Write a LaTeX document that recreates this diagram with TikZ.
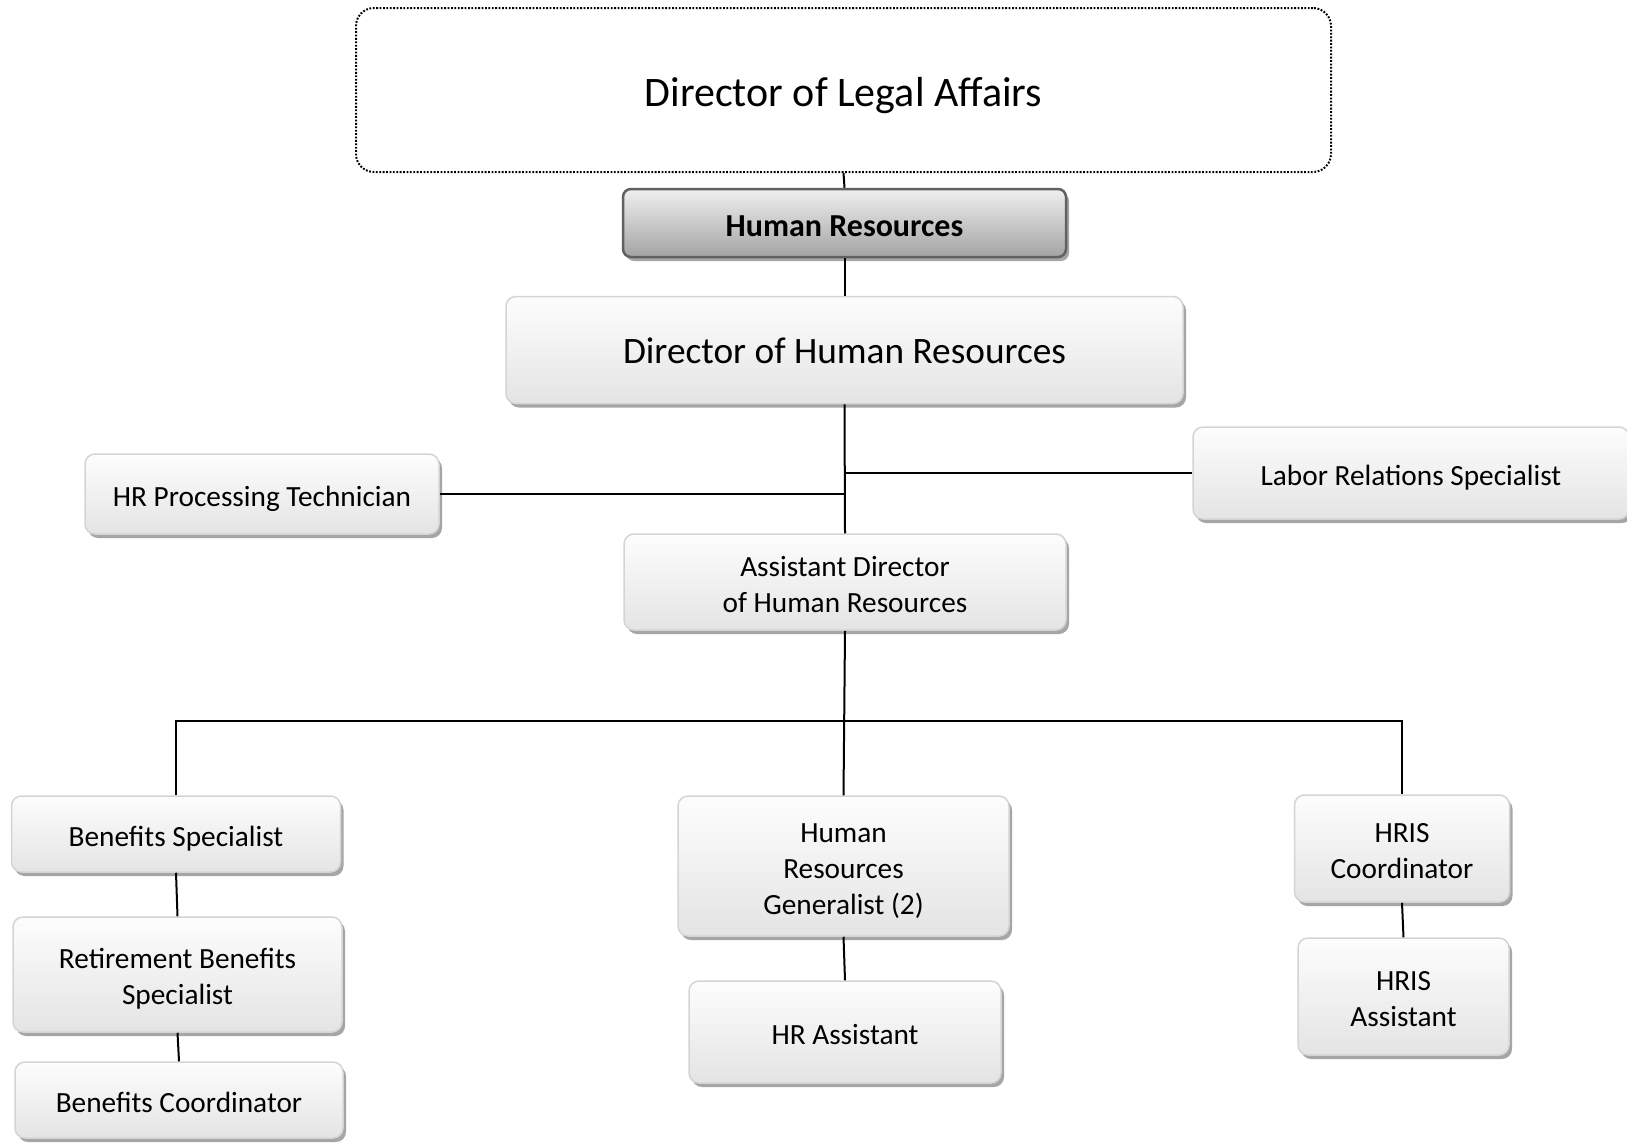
\documentclass[tikz,border=0pt]{standalone}
\usepackage{fontspec}
\setmainfont{Carlito}
\usetikzlibrary{shadows}
\definecolor{boxline}{HTML}{D4D4D4}
\definecolor{boxtop}{HTML}{FDFDFD}
\definecolor{boxbot}{HTML}{E4E4E4}
\definecolor{shadowgray}{HTML}{A6A6A6}
% centred lines of text, lowered by #1 inside an unchanged box
\newcommand\boxlines[2][5.2pt]{\setbox0=\hbox{\begin{tabular}{@{}c@{}}#2\end{tabular}}%
  \dimen0=\ht0 \dimen2=\dp0 \setbox2=\hbox{\lower#1\box0}\ht2=\dimen0 \dp2=\dimen2 \box2}
\tikzset{
  orgbox/.style={draw=boxline, line width=1.5pt, rounded corners=10pt,
    top color=boxtop, bottom color=boxbot,
    font=\fontsize{29.3}{36}\selectfont, inner sep=0pt,
    drop shadow={shadow xshift=3pt, shadow yshift=-4pt, fill=shadowgray, opacity=1}},
  bigbox/.style={orgbox, font=\fontsize{37.3}{44}\selectfont},
  hrbox/.style={draw=black!62, line width=2.5pt, rounded corners=8pt,
    top color=white!94!black, bottom color=black!36,
    font=\fontsize{32}{38}\selectfont\bfseries, inner sep=0pt,
    drop shadow={shadow xshift=3pt, shadow yshift=-4pt, fill=shadowgray, opacity=1}},
  legalbox/.style={draw=black, line width=2pt, dash pattern=on 1.8pt off 1.6pt,
    rounded corners=18pt, fill=white,
    font=\fontsize{42}{50}\selectfont, inner sep=0pt},
  conn/.style={draw=black, line width=2pt}
}
\begin{document}
\begin{tikzpicture}[x=1pt, y=-1pt]
\useasboundingbox[fill=white] (0,0) rectangle (1627,1144);

\coordinate (bus) at (844,721);

\node[legalbox, minimum width=975pt, minimum height=164pt] (legal) at (843.5,90) {\boxlines[6.5pt]{Director of Legal Affairs}};
\node[hrbox, minimum width=443pt, minimum height=68pt] (hr) at (844.5,223) {\boxlines[5.8pt]{Human Resources}};
\node[bigbox, minimum width=677pt, minimum height=107pt] (dhr) at (844.5,350) {\boxlines[4.7pt]{Director of Human Resources}};
\node[orgbox, minimum width=354pt, minimum height=80pt] (proc) at (262,494) {\boxlines{HR Processing Technician}};
\node[orgbox, minimum width=436pt, minimum height=92pt] (labor) at (1411,473) {\boxlines{Labor Relations Specialist}};
\node[orgbox, minimum width=442pt, minimum height=96pt] (asst) at (845,582) {\boxlines{Assistant Director\\of Human Resources}};
\node[orgbox, minimum width=329pt, minimum height=76pt] (ben) at (176,834) {\boxlines{Benefits Specialist}};
\node[orgbox, minimum width=329pt, minimum height=115pt] (ret) at (177.5,974.5) {\boxlines{Retirement Benefits\\Specialist}};
\node[orgbox, minimum width=328pt, minimum height=76pt] (coord) at (179,1100) {\boxlines{Benefits Coordinator}};
\node[orgbox, minimum width=331pt, minimum height=140pt] (gen) at (843.5,866) {\boxlines{Human\\Resources\\Generalist (2)}};
\node[orgbox, minimum width=312pt, minimum height=102pt] (hrasst) at (845,1032) {\boxlines{HR Assistant}};
\node[orgbox, minimum width=215pt, minimum height=107pt] (hrisc) at (1402,848.5) {\boxlines{HRIS\\Coordinator}};
\node[orgbox, minimum width=211pt, minimum height=117pt] (hrisa) at (1403.5,996.5) {\boxlines{HRIS\\Assistant}};

\draw[conn] (legal.south) -- (hr.north);
\draw[conn] (hr.south) -- (dhr.north);
\draw[conn] (dhr.south) -- (asst.north);
\draw[conn] (proc.east) -- (proc.east -| dhr.south);
\draw[conn] (labor.west) -- (labor.west -| dhr.south);
\draw[conn] (asst.south) -- (gen.north);
\draw[conn] (ben.north) |- (bus) -| (hrisc.north);
\draw[conn] (ben.south) -- (ret.north);
\draw[conn] (ret.south) -- (coord.north);
\draw[conn] (gen.south) -- (hrasst.north);
\draw[conn] (hrisc.south) -- (hrisa.north);
\end{tikzpicture}
\end{document}
